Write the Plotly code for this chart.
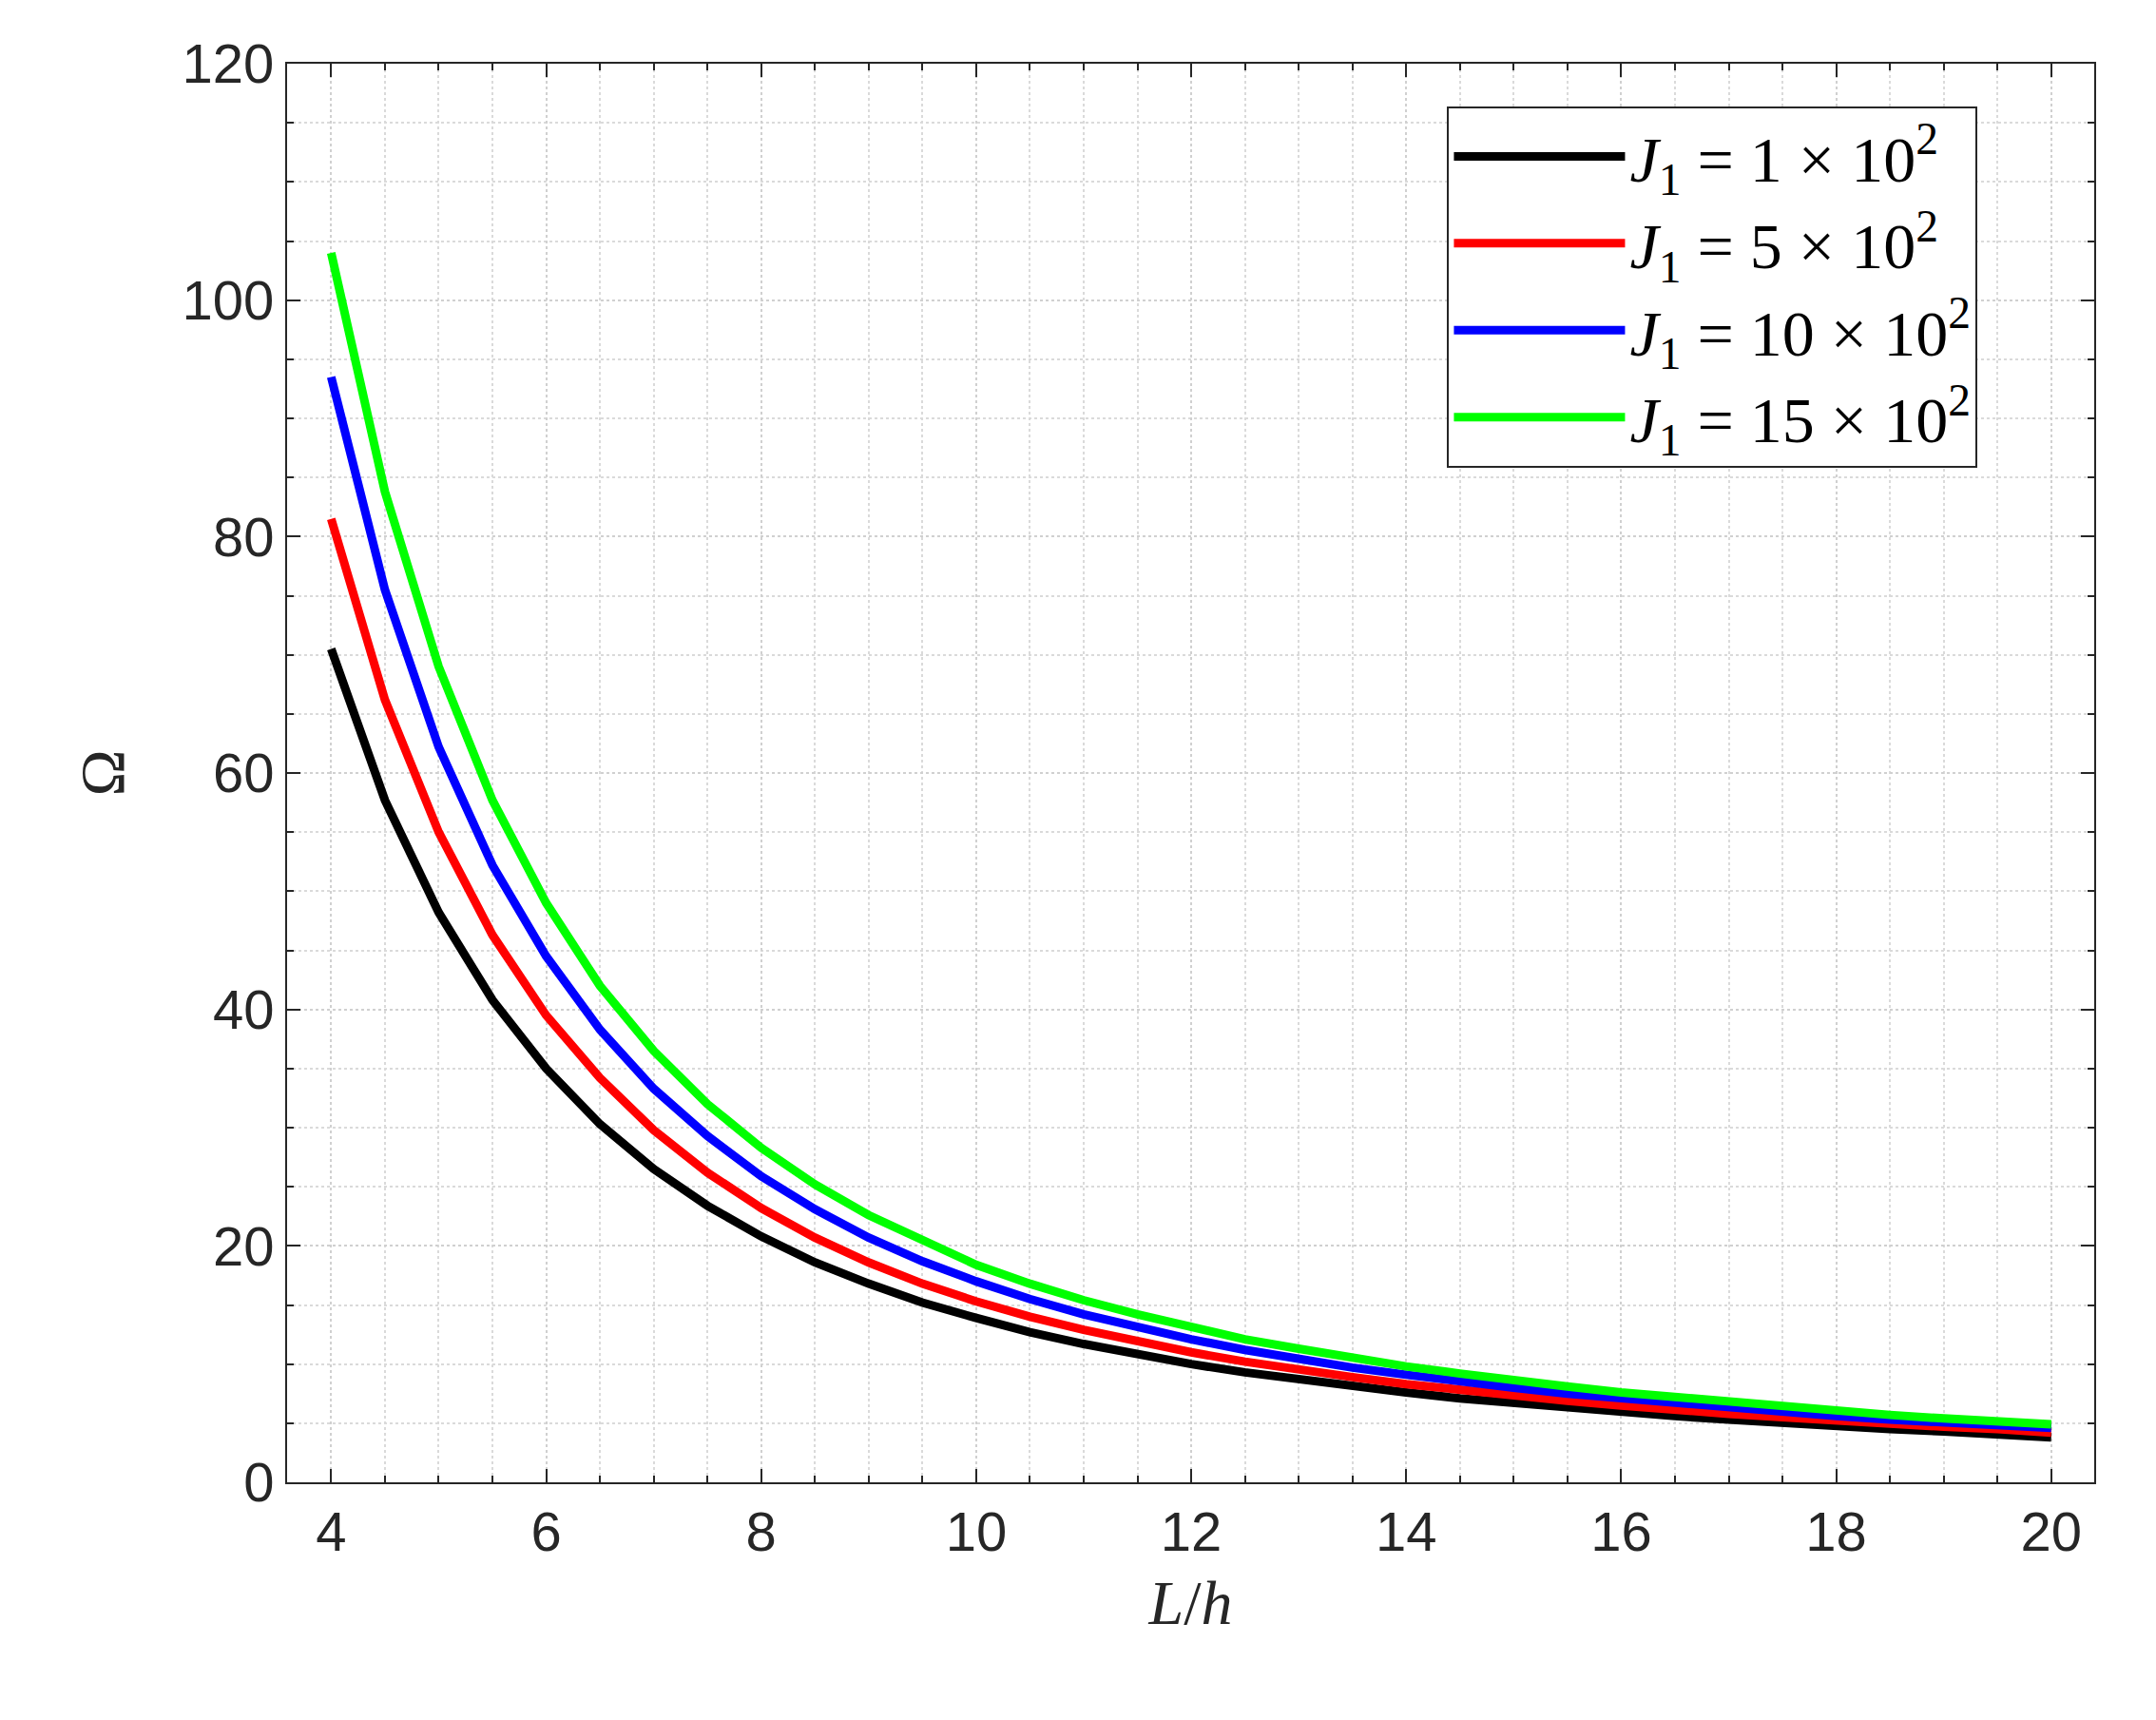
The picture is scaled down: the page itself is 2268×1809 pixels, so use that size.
import plotly.graph_objects as go

x = [4 + 0.5*i for i in range(33)]
black = [70.5,57.7,48.2,40.8,35.0,30.3,26.5,23.4,20.8,18.6,16.8,15.2,13.9,12.7,11.7,10.8,10.0,9.3,8.7,8.1,7.6,7.1,6.7,6.3,5.9,5.6,5.3,5.0,4.7,4.5,4.3,4.1,3.8]
red = [81.5,66.2,55.0,46.3,39.5,34.2,29.8,26.2,23.2,20.7,18.6,16.8,15.3,14.0,12.9,11.9,11.0,10.2,9.5,8.9,8.3,7.8,7.3,6.9,6.5,6.1,5.8,5.5,5.2,4.9,4.7,4.5,4.2]
blue = [93.5,75.5,62.2,52.2,44.5,38.3,33.3,29.3,25.9,23.1,20.7,18.7,17.0,15.5,14.2,13.1,12.1,11.2,10.4,9.7,9.1,8.5,8.0,7.5,7.1,6.7,6.3,6.0,5.6,5.3,5.1,4.8,4.6]
green = [104,83.8,69.0,57.7,49.0,42.0,36.5,32.0,28.3,25.2,22.6,20.4,18.4,16.8,15.4,14.2,13.1,12.1,11.3,10.5,9.8,9.2,8.6,8.1,7.6,7.2,6.8,6.4,6.0,5.7,5.4,5.1,4.9]
names = ["<i>J</i><sub>1</sub> = 1 × 10<sup>2</sup>", "<i>J</i><sub>1</sub> = 5 × 10<sup>2</sup>",
         "<i>J</i><sub>1</sub> = 10 × 10<sup>2</sup>", "<i>J</i><sub>1</sub> = 15 × 10<sup>2</sup>"]
colors = ["#000000", "#ff0000", "#0000ff", "#00ff00"]

fig = go.Figure()
for ys, n, c in zip([black, red, blue, green], names, colors):
    fig.add_trace(go.Scatter(x=x, y=ys, mode="lines", name=n, line=dict(color=c, width=9)))

ax = dict(showline=True, linecolor="#262626", linewidth=2, mirror="allticks", ticks="inside",
          ticklen=14, tickwidth=2, tickcolor="#262626", showgrid=True, gridcolor="#d0d0d0",
          griddash="dot", gridwidth=2, zeroline=False,
          tickfont=dict(family="Liberation Sans, Arial", size=58, color="#262626"))
fig.update_xaxes(**ax, range=[3.59, 20.4], tickvals=list(range(4, 21, 2)),
                 minor=dict(dtick=0.5, ticks="inside", ticklen=7, tickcolor="#262626", showgrid=True,
                            gridcolor="#dadada", griddash="dot", gridwidth=2),
                 title=dict(text="<i>L</i>/<i>h</i>", font=dict(family="Liberation Serif", size=66, color="#262626"), standoff=20))
fig.update_yaxes(**ax, range=[0, 120], dtick=20,
                 minor=dict(dtick=5, ticks="inside", ticklen=7, tickcolor="#262626", showgrid=True,
                            gridcolor="#dadada", griddash="dot", gridwidth=2),
                 title=dict(text="Ω", font=dict(family="Liberation Serif", size=66, color="#262626"), standoff=40))
fig.update_layout(width=2268, height=1809, margin=dict(l=294, r=73, t=59, b=258),
                  plot_bgcolor="white", paper_bgcolor="white",
                  legend=dict(x=0.642, y=0.97, xanchor="left", yanchor="top", bgcolor="white",
                              bordercolor="#262626", borderwidth=2,
                              font=dict(family="Liberation Serif", size=68, color="black"),
                              itemwidth=180, tracegroupgap=12))
fig.write_html("out.html")
